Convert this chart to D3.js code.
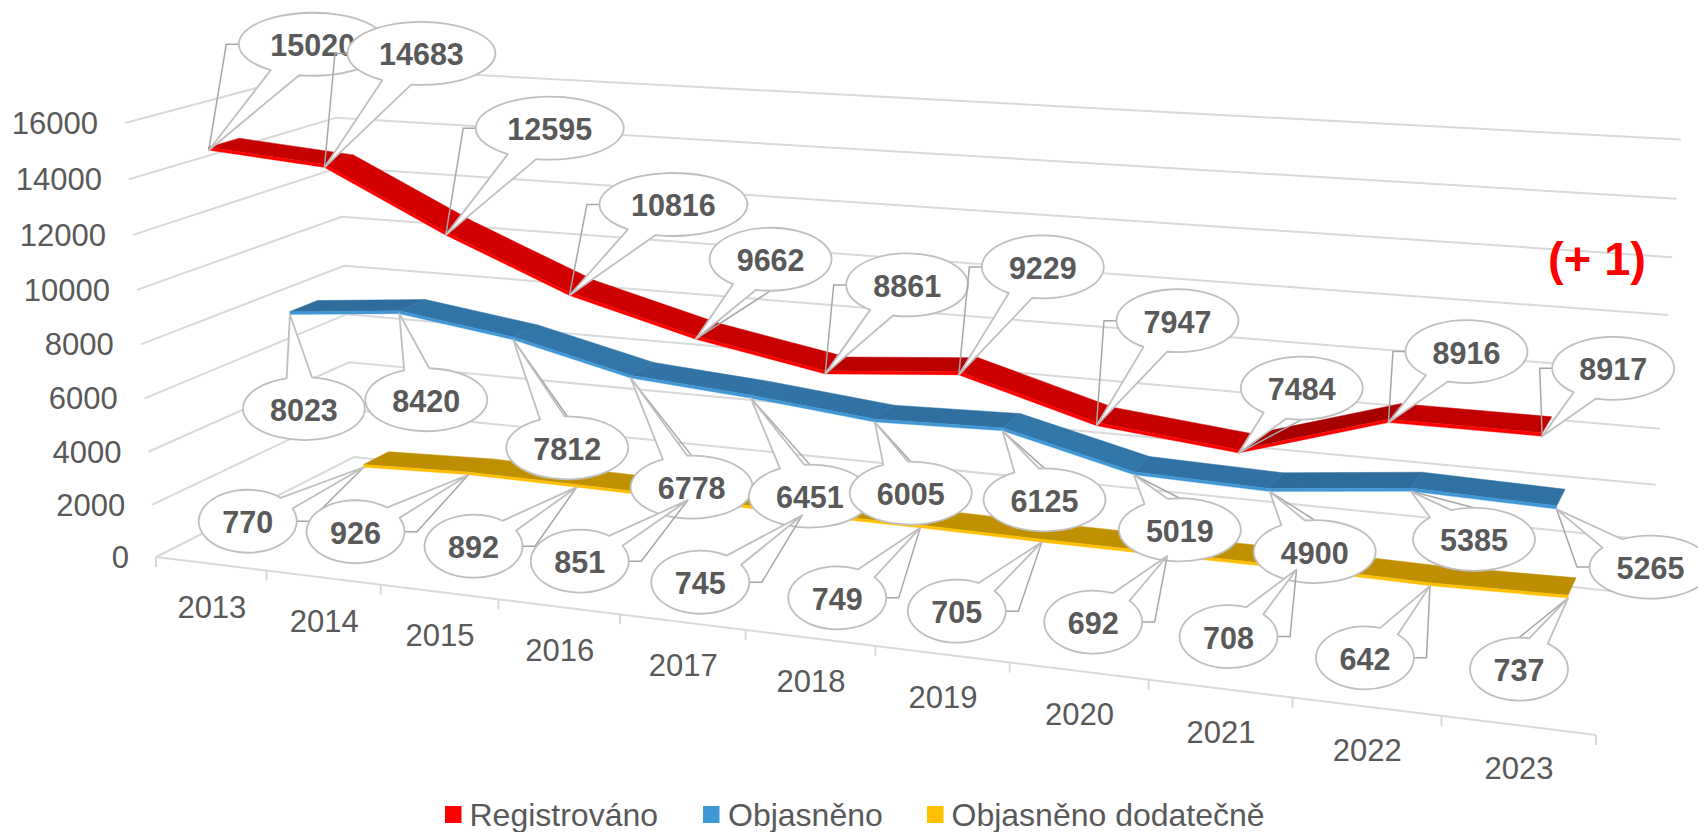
<!DOCTYPE html>
<html><head><meta charset="utf-8">
<script src="https://cdn.jsdelivr.net/npm/d3@7"></script>
<style>html,body{margin:0;padding:0;background:#fff}svg{display:block}text{font-family:"Liberation Sans",Arial,sans-serif}</style>
</head><body><div id="chart"></div>
<script>
const years=[2013,2014,2015,2016,2017,2018,2019,2020,2021,2022,2023];
const valueTicks=[0,2000,4000,6000,8000,10000,12000,14000,16000];
const registrovano=[15020,14683,12595,10816,9662,8861,9229,7947,7484,8916,8917];
const objasneno=[8023,8420,7812,6778,6451,6005,6125,5019,4900,5385,5265];
const dodatecne=[770,926,892,851,745,749,705,692,708,642,737];
const seriesNames=["Registrováno","Objasněno","Objasněno dodatečně"];
// callout placement relative to each data point
const offsetsRed=[[104,-106],[97,-114],[104,-107],[104,-91],[75,-80],[82,-89],[84,-108],[81,-105],[63,-65],[78,-71],[71,-68]];
const offsetsBlue=[[14,94],[27,86],[54,108],[61,109],[59,98],[36,71],[42,69],[46,55],[45,60],[63,48],[94,58]];
const offsetsGold=[[-116,54],[-113,57],[-103,59],[-108,61],[-102,67],[-83,70],[-85,69],[-74,66],[-68,67],[-65,72],[-49,71]];
const leadersRed=["left","left","left","left","bottom","left","left","left","bottom","left","left"];
const leadersBlue=["none","none","top","top","top","top","top","top","top","top","left"];
const leadersGold=["right","right","right","right","right","right","right","right","right","right","top"];

const W=1698,H=832;
const svg=d3.select("#chart").append("svg").attr("width",W).attr("height",H).attr("viewBox",[0,0,W,H]);
const uScale=d3.scaleLinear().domain([0,years.length]).range([0,1]);
const vScale=d3.scaleLinear().domain([0,16000]).range([0,1]);
// projective box: O front-left-floor, axes to front-right-floor, front-left-top, back-left-floor
const O=[156,557],FR=[1596,735],FT=[125,123],BL=[354,457],wu=-0.168,wv=-0.04,wd=0.1196;
function proj(u,v,d){
  const w=1+wu*u+wv*v+wd*d;
  return [0,1].map(k=>(O[k]+(FR[k]*(1+wu)-O[k])*u+(FT[k]*(1+wv)-O[k])*v+(BL[k]*(1+wd)-O[k])*d)/w);
}
const P=(cat,val,d)=>proj(uScale(cat),vScale(val),d);
const GRID="#d9d9d9",TXT="#595959";
const line=d3.line();
// grid
const gGrid=svg.append("g").attr("fill","none").attr("stroke",GRID).attr("stroke-width",2);
valueTicks.forEach(t=>{
  gGrid.append("path").attr("d",line([P(0,t,0),P(0,t,1),P(years.length,t,1)]));
});
gGrid.append("path").attr("d",line([P(0,0,0),P(years.length,0,0)]));
d3.range(years.length+1).forEach(i=>{
  const p=P(i,0,0);
  gGrid.append("path").attr("d",line([p,[p[0],p[1]+10]]));
});
// axis labels
const gAxis=svg.append("g").attr("fill",TXT).attr("font-size",31);
valueTicks.forEach(t=>{
  const p=P(0,t,0);
  gAxis.append("text").attr("x",p[0]-27).attr("y",p[1]+11).attr("text-anchor","end").text(t);
});
years.forEach((y,i)=>{
  const p=P(i+.5,0,0);
  gAxis.append("text").attr("x",p[0]+1).attr("y",p[1]+54).attr("text-anchor","middle").text(y);
});
// ribbons: the value sits at the lower edge of the top face, the bright strip hangs around it
const slots=[[.11,.25],[.44,.58],[.775,.915]];
const BASE=110,THICK=110;
const shade=d3.scaleLinear().domain([-2000,0,1500]).range([1.09,1,.86]);
function tint(c,f){const r=d3.rgb(c);return d3.rgb(r.r*f,r.g*f,r.b*f).formatHex();}
const defs=[
 {vals:registrovano,top:"#c20000",strip:"#ff0000",slot:slots[0],offsets:offsetsRed,leaders:leadersRed},
 {vals:objasneno,top:"#3071a2",strip:"#3f97d6",slot:slots[1],offsets:offsetsBlue,leaders:leadersBlue},
 {vals:dodatecne,top:"#bf9000",strip:"#ffc000",slot:slots[2],offsets:offsetsGold,leaders:leadersGold}];
[...defs].reverse().forEach(s=>{
  const g=svg.append("g");
  const pts=s.vals.map((v,i)=>({c:i+.5,v}));
  d3.pairs(pts).forEach(([a,b])=>{
    const lo=v=>v-BASE,hi=v=>v-BASE+THICK;
    const col=tint(s.top,shade(b.v-a.v));
    g.append("path").attr("d",line([P(a.c,hi(a.v),s.slot[0]),P(b.c,hi(b.v),s.slot[0]),P(b.c,hi(b.v),s.slot[1]),P(a.c,hi(a.v),s.slot[1])])+"Z")
     .attr("fill",col).attr("stroke",col).attr("stroke-width",.5);
    g.append("path").attr("d",line([P(a.c,lo(a.v),s.slot[0]),P(b.c,lo(b.v),s.slot[0]),P(b.c,hi(b.v),s.slot[0]),P(a.c,hi(a.v),s.slot[0])])+"Z")
     .attr("fill",s.strip).attr("stroke",s.strip).attr("stroke-width",.3);
  });
});
// callouts
const RX={3:49,4:61,5:74},RY=31.5,SPREAD=12*Math.PI/180,ELBOW=12.5;
const gCall=svg.append("g");
defs.forEach(s=>{
  s.vals.forEach((v,i)=>{
    const a=P(i+.5,v-BASE,s.slot[0]);
    const cx=a[0]+s.offsets[i][0],cy=a[1]+s.offsets[i][1];
    const rx=RX[String(v).length],ry=RY;
    const g=gCall.append("g");
    const side=s.leaders[i];
    let lead=null;
    if(side==="left") lead=[a,[cx-rx-ELBOW,cy],[cx-rx,cy]];
    if(side==="right") lead=[a,[cx+rx+ELBOW,cy],[cx+rx,cy]];
    if(side==="top") lead=[a,[cx,cy-ry]];
    if(side==="bottom") lead=[a,[cx,cy+ry]];
    if(lead) g.append("path").attr("d",line(lead)).attr("fill","none").attr("stroke","#a6a6a6").attr("stroke-width",1.5);
    const t=Math.atan2((a[1]-cy)/ry,(a[0]-cx)/rx);
    const p1=[cx+rx*Math.cos(t-SPREAD),cy+ry*Math.sin(t-SPREAD)];
    const p2=[cx+rx*Math.cos(t+SPREAD),cy+ry*Math.sin(t+SPREAD)];
    g.append("path").attr("d",`M${p2}A${rx},${ry} 0 1 1 ${p1}L${a}Z`).attr("fill","#fff").attr("stroke","#bfbfbf").attr("stroke-width",1.8).attr("stroke-linejoin","round");
    g.append("text").attr("x",cx).attr("y",cy+12).attr("text-anchor","middle").attr("font-size",30.5).attr("font-weight","bold").attr("fill",TXT).text(v);
  });
});
// annotation
svg.append("text").attr("x",1597).attr("y",275).attr("text-anchor","middle").attr("font-size",47).attr("font-weight","bold").attr("fill","#ff0000").text("(+ 1)");
// legend
const legendX=[445,703,927],legendTextX=[469.5,728,951.5];
const gLeg=svg.append("g").attr("font-size",32).attr("fill",TXT);
seriesNames.forEach((n,i)=>{
  gLeg.append("rect").attr("x",legendX[i]).attr("y",806).attr("width",16.5).attr("height",17).attr("fill",defs[i].strip);
  gLeg.append("text").attr("x",legendTextX[i]).attr("y",826).text(n);
});
</script></body></html>
